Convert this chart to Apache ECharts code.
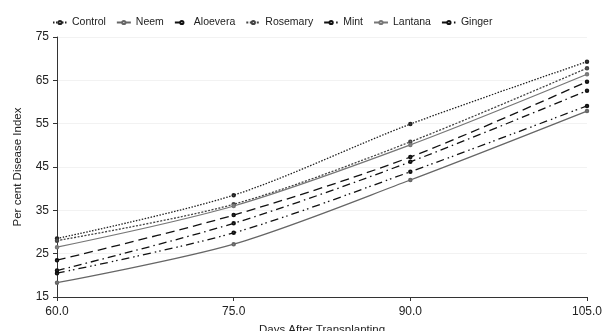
<!DOCTYPE html>
<html>
<head>
<meta charset="utf-8">
<script src="https://cdn.jsdelivr.net/npm/echarts@6/dist/echarts.min.js"></script>
<style>
    html, body { margin: 0; padding: 0; background: #fff; }
    #chart { width: 602px; height: 331px; }
</style>
</head>
<body>
<div id="chart"></div>
<script>
// days after transplanting
const days = [60, 75, 90, 105];

// per cent disease index
const control = [28.5, 38.5, 54.9, 69.3];
const neem = [18.3, 27.2, 42.0, 57.9];
const aloevera = [23.5, 33.9, 47.3, 64.7];
const rosemary = [28.0, 36.4, 50.8, 67.8];
const mint = [20.5, 29.8, 43.9, 59.1];
const lantana = [26.5, 36.0, 50.1, 66.4];
const ginger = [21.1, 32.0, 46.2, 62.6];

function pairs(vals) {
    return days.map((d, i) => [d, vals[i]]);
}

// name, values, colour, dash pattern
const lines = [
    ['Control', control, '#222', [1.5, 1.5]],
    ['Neem', neem, '#666', 'solid'],
    ['Aloevera', aloevera, '#111', [9, 5]],
    ['Rosemary', rosemary, '#444', [2, 1.5]],
    ['Mint', mint, '#111', [8, 4, 1.5, 3, 1.5, 4]],
    ['Lantana', lantana, '#777', 'solid'],
    ['Ginger', ginger, '#111', [8, 4, 1.5, 4]]
];

const chart = echarts.init(document.getElementById('chart'));
const option = {
    animation: false,
    textStyle: { fontFamily: 'Liberation Sans, Arial, sans-serif' },
    legend: {
        top: 12,
        left: 47,
        itemWidth: 14,
        itemHeight: 4,
        itemGap: 10,
        textStyle: { fontSize: 10.5, color: '#222' },
        data: lines.map(l => l[0])
    },
    grid: {
        left: 57,
        right: 15,
        top: 37,
        bottom: 34,
        outerBoundsMode: 'none'
    },
    xAxis: {
        type: 'value',
        min: 60,
        max: 105,
        interval: 15,
        name: 'Days After Transplanting',
        nameLocation: 'middle',
        nameGap: 27,
        nameTextStyle: { fontSize: 11.5, color: '#222' },
        axisLine: { lineStyle: { color: '#333', width: 1 } },
        axisTick: { show: true, length: 4, lineStyle: { color: '#333' } },
        axisLabel: { fontSize: 12, color: '#222', margin: 9, formatter: v => v.toFixed(1) },
        splitLine: { show: false }
    },
    yAxis: {
        type: 'value',
        min: 15,
        max: 75,
        interval: 10,
        name: 'Per cent Disease Index',
        nameLocation: 'middle',
        nameGap: 33,
        nameTextStyle: { fontSize: 11.5, color: '#222' },
        axisLine: { show: true, lineStyle: { color: '#333', width: 1 } },
        axisTick: { show: true, length: 4, lineStyle: { color: '#333' } },
        axisLabel: { fontSize: 12, color: '#222', margin: 8 },
        splitLine: { show: true, lineStyle: { color: '#f2f2f2' } }
    },
    series: lines.map(l => ({
        name: l[0],
        type: 'line',
        smooth: 0.3,
        data: pairs(l[1]),
        symbol: 'emptyCircle',
        symbolSize: 2.5,
        itemStyle: { color: l[2], borderWidth: 0.5 },
        lineStyle: { color: l[2], width: 1.3, type: l[3] }
    }))
};
chart.setOption(option);
</script>
</body>
</html>
